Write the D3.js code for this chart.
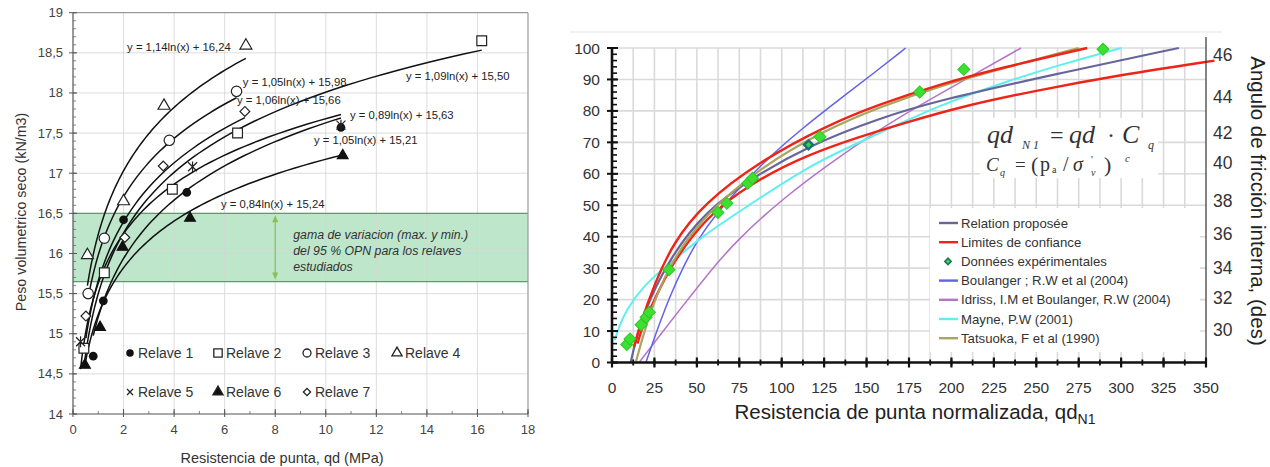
<!DOCTYPE html>
<html><head><meta charset="utf-8">
<script src="https://cdn.jsdelivr.net/npm/d3@7"></script>
<style>
body{margin:0;background:#fff}
svg{display:block}
text{font-family:"Liberation Sans",Arial,sans-serif}
text.serif{font-family:"Liberation Serif","Times New Roman",serif}
</style>
</head><body>
<svg id="c" width="1270" height="467"></svg>
<script>
// ================= LEFT CHART DATA =================
const relaveNames = ["Relave 1","Relave 2","Relave 3","Relave 4","Relave 5","Relave 6","Relave 7"];
const r1X = [0.8, 1.2, 2.0, 4.5, 10.6],           r1Y = [14.72, 15.41, 16.42, 16.76, 17.57];
const r2X = [0.43, 1.24, 3.93, 6.51, 16.17],      r2Y = [14.82, 15.76, 16.8, 17.5, 18.65];
const r3X = [0.6, 1.24, 3.81, 6.47],              r3Y = [15.5, 16.19, 17.41, 18.02];
const r4X = [0.57, 2.0, 3.6, 6.84],               r4Y = [15.98, 16.65, 17.84, 18.59];
const r5X = [0.3, 4.73, 10.6],                    r5Y = [14.9, 17.08, 17.6];
const r6X = [0.47, 1.07, 1.96, 4.63, 10.67],      r6Y = [14.61, 15.08, 16.08, 16.44, 17.22];
const r7X = [0.51, 2.05, 3.57, 6.8],              r7Y = [15.22, 16.2, 17.09, 17.77];
const coefA = [1.05, 1.09, 1.05, 1.14, 0.89, 0.84, 1.06];
const coefB = [15.21, 15.50, 15.98, 16.24, 15.63, 15.24, 15.66];
// equation label anchors (data units)
const eqLabelX = [9.53, 13.17, 6.72, 2.14, 10.96, 5.85, 6.49];
const eqLabelY = [17.41, 18.21, 18.14, 18.57, 17.73, 16.62, 17.91];
const leftXTicks = [0,2,4,6,8,10,12,14,16,18];
const leftYTicks = [14,14.5,15,15.5,16,16.5,17,17.5,18,18.5,19];
const bandRange = [15.65, 16.5];
const bandText = ["gama de variacion  (max. y min.)", "del 95 % OPN para los relaves", "estudiados"];

// ================= RIGHT CHART DATA =================
const relPropX = [11, 15, 22, 35, 55, 82, 116, 158, 193.5, 262, 334];
const relPropY = [0, 9.5, 20, 34, 48, 58.5, 69, 77.8, 83.5, 91.8, 100];
const limUpX = [13, 16.5, 25, 36, 54, 87, 127, 158, 193.5, 230, 280];
const limUpY = [5, 12, 25, 38, 50.5, 64, 75.5, 82.2, 88.5, 93.8, 100];
const limLoX = [15, 18, 22, 33, 48, 63, 87, 115, 146, 170, 205, 250, 300, 355];
const limLoY = [6, 11.5, 16.5, 29.2, 41, 49.5, 58.5, 66, 71.8, 75.8, 81.3, 86.5, 91.5, 96];
const boulX = [20, 25, 34, 42, 51, 61, 75, 91, 111, 136, 155, 173];
const boulY = [0, 8, 21, 30.5, 39.5, 47, 55.5, 64.5, 74, 84.5, 92.3, 100];
const idrX = [16, 28, 41, 57, 72, 100, 135, 170, 205, 241];
const idrY = [0, 8.5, 17.5, 28.5, 38, 52, 66, 78.4, 89, 100];
const mayX = [1.5, 4, 8, 19.5, 33, 54, 76.5, 117, 150, 193.5, 233, 265, 300];
const mayY = [7, 11, 16.5, 25, 31, 40.5, 48.5, 63, 71, 82, 89.5, 94.8, 100];
const tatX = [14, 18, 25, 36, 54, 87, 127, 158, 193.5, 230, 275];
const tatY = [0, 8, 20, 33, 46.5, 62, 74.3, 81.3, 88, 93.5, 100];
const expX = [8.7, 10.6, 17.1, 20.1, 22, 33.6, 62.4, 67.7, 80, 82.8, 115.8, 122.5, 181.3, 207.3, 289.3];
const expY = [5.7, 7.5, 12, 14.4, 16, 29.5, 47.7, 50.6, 57, 58.6, 69.2, 71.8, 86, 93.2, 99.6];
const rightXTicks = [0,25,50,75,100,125,150,175,200,225,250,275,300,325,350];
const rightYTicks = [0,10,20,30,40,50,60,70,80,90,100];
const phiTicks = [30, 32, 34, 36, 38, 40, 42, 44, 46];
const phiAtDr  = [10.4, 20.5, 30, 40.9, 51.5, 63.4, 72.9, 84.5, 97.8];
const legendNames = ["Relation proposée","Limites de confiance","Données expérimentales",
  "Boulanger ; R.W et al (2004)","Idriss, I.M et Boulanger, R.W (2004)","Mayne, P.W (2001)","Tatsuoka, F et al (1990)"];

// ================= DRAW =================
const svg = d3.select("#c");
const fmt = v => v.toFixed(2).replace(".", ",");
const fmtT = v => String(v).replace(".", ",");

// ---------- LEFT ----------
const xL = d3.scaleLinear().domain([0,18]).range([73,528]);
const yL = d3.scaleLinear().domain([14,19]).range([414,12.7]);
const gL = svg.append("g");

gL.append("rect").attr("x", xL(0)).attr("width", xL(18)-xL(0))
  .attr("y", yL(bandRange[1])).attr("height", yL(bandRange[0]) - yL(bandRange[1]))
  .attr("fill", "#bde6cb");
gL.selectAll(".vg").data(leftXTicks.filter(d=>d>0 && d<18)).join("line")
  .attr("x1", d=>xL(d)).attr("x2", d=>xL(d)).attr("y1", yL(19)).attr("y2", yL(14))
  .attr("stroke", "#d4d4d4").attr("stroke-opacity", 0.8).attr("stroke-width", 1);
gL.selectAll(".hg").data(leftYTicks.filter(d=>d>14 && d<19)).join("line")
  .attr("x1", xL(0)).attr("x2", xL(18)).attr("y1", d=>yL(d)).attr("y2", d=>yL(d))
  .attr("stroke", "#d4d4d4").attr("stroke-opacity", 0.8).attr("stroke-width", 1);
bandRange.forEach(v => gL.append("line").attr("x1", xL(0)).attr("x2", xL(18))
  .attr("y1", yL(v)).attr("y2", yL(v)).attr("stroke", "#4aa56d").attr("stroke-width", 1.3));
gL.append("line").attr("x1", xL(0)).attr("x2", xL(18)).attr("y1", yL(19)).attr("y2", yL(19)).attr("stroke", "#9a9a9a").attr("stroke-width", 1.2);
gL.append("line").attr("x1", xL(18)).attr("x2", xL(18)).attr("y1", yL(19)).attr("y2", yL(14)).attr("stroke", "#9a9a9a").attr("stroke-width", 1.2);

const arrX = xL(8);
gL.append("line").attr("x1", arrX).attr("x2", arrX).attr("y1", yL(bandRange[1])+4).attr("y2", yL(bandRange[0])-4)
  .attr("stroke", "#86c24d").attr("stroke-width", 1.2);
gL.append("path").attr("d", `M${arrX-3},${yL(bandRange[1])+9} L${arrX+3},${yL(bandRange[1])+9} L${arrX},${yL(bandRange[1])+2} Z`).attr("fill", "#86c24d");
gL.append("path").attr("d", `M${arrX-3},${yL(bandRange[0])-9} L${arrX+3},${yL(bandRange[0])-9} L${arrX},${yL(bandRange[0])-2} Z`).attr("fill", "#86c24d");
bandText.forEach((t,i) => gL.append("text").attr("x", xL(8)+18).attr("y", 239 + i*16)
  .attr("font-size", 12.3).attr("font-style", "italic").attr("fill", "#333").text(t));

const relX = [r1X,r2X,r3X,r4X,r5X,r6X,r7X], relY = [r1Y,r2Y,r3Y,r4Y,r5Y,r6Y,r7Y];
const lineL = d3.line().x(d=>xL(d[0])).y(d=>yL(d[1]));
relX.forEach((xs,i) => {
  const lo = d3.min(xs), hi = d3.max(xs);
  const pts = d3.range(0, 81).map(k => { const x = lo * Math.pow(hi/lo, k/80); return [x, coefA[i]*Math.log(x)+coefB[i]]; });
  gL.append("path").attr("d", lineL(pts)).attr("fill", "none").attr("stroke", "#111").attr("stroke-width", 1.5);
});
coefA.forEach((a,i) => gL.append("text").attr("x", xL(eqLabelX[i])).attr("y", yL(eqLabelY[i])+4)
  .attr("font-size", 11.3).attr("fill", "#222").text(`y = ${fmt(a)}ln(x) + ${fmt(coefB[i])}`));

function asterisk(s){ const h=s/2; return `M${-h},${-h}L${h},${h}M${-h},${h}L${h},${-h}M0,${-h*1.2}L0,${h*1.2}`; }
function xmark(s){ const h=s/2; return `M${-h},${-h}L${h},${h}M${-h},${h}L${h},${-h}`; }
const sym = [
  {p: d3.symbol(d3.symbolCircle, 60)(), fill:"#111", stroke:"none", rot:0},
  {p: d3.symbol(d3.symbolSquare, 95)(), fill:"#fff", stroke:"#222", rot:0},
  {p: d3.symbol(d3.symbolCircle, 85)(), fill:"#fff", stroke:"#222", rot:0},
  {p: d3.symbol(d3.symbolTriangle, 62)(), fill:"#fff", stroke:"#222", rot:0},
  {p: asterisk(9), fill:"none", stroke:"#222", rot:0},
  {p: d3.symbol(d3.symbolTriangle, 50)(), fill:"#111", stroke:"#111", rot:0},
  {p: d3.symbol(d3.symbolSquare, 48)(), fill:"#fff", stroke:"#222", rot:45}
];
relX.forEach((xs,i) => {
  xs.forEach((x,j) => gL.append("path").attr("d", sym[i].p)
    .attr("transform", `translate(${xL(x)},${yL(relY[i][j])}) rotate(${sym[i].rot})`)
    .attr("fill", sym[i].fill).attr("stroke", sym[i].stroke).attr("stroke-width", 1.2));
});

gL.append("line").attr("x1", xL(0)).attr("x2", xL(0)).attr("y1", yL(19)).attr("y2", yL(14)).attr("stroke", "#555").attr("stroke-width", 1.2);
gL.append("line").attr("x1", xL(0)).attr("x2", xL(18)).attr("y1", yL(14)).attr("y2", yL(14)).attr("stroke", "#555").attr("stroke-width", 1.2);
const yMinorL = d3.range(140, 191).map(v=>v/10);
gL.selectAll(".ymt").data(yMinorL).join("line").attr("x1", xL(0)).attr("x2", xL(0)+3)
  .attr("y1", d=>yL(d)).attr("y2", d=>yL(d)).attr("stroke", "#666").attr("stroke-width", 0.8);
gL.selectAll(".yMt").data(leftYTicks).join("line").attr("x1", xL(0)-4).attr("x2", xL(0)+4)
  .attr("y1", d=>yL(d)).attr("y2", d=>yL(d)).attr("stroke", "#555").attr("stroke-width", 1);
gL.selectAll(".ytl").data(leftYTicks).join("text").attr("x", xL(0)-10).attr("y", d=>yL(d)+4.5)
  .attr("text-anchor", "end").attr("font-size", 13).attr("fill", "#444").text(fmtT);
const xMinorL = d3.range(0, 19);
gL.selectAll(".xmt").data(xMinorL).join("line").attr("x1", d=>xL(d)).attr("x2", d=>xL(d))
  .attr("y1", yL(14)-3).attr("y2", yL(14)).attr("stroke", "#666").attr("stroke-width", 0.8);
gL.selectAll(".xMt").data(leftXTicks).join("line").attr("x1", d=>xL(d)).attr("x2", d=>xL(d))
  .attr("y1", yL(14)-5).attr("y2", yL(14)+3).attr("stroke", "#555").attr("stroke-width", 1);
gL.selectAll(".xtl").data(leftXTicks).join("text").attr("x", d=>xL(d)).attr("y", yL(14)+20)
  .attr("text-anchor", "middle").attr("font-size", 13).attr("fill", "#444").text(d=>d);
gL.append("text").attr("x", 282).attr("y", 463).attr("text-anchor", "middle").attr("font-size", 14.5).attr("fill", "#333")
  .text("Resistencia de punta, qd (MPa)");
gL.append("text").attr("transform", "translate(26,212) rotate(-90)").attr("text-anchor", "middle")
  .attr("font-size", 14.3).attr("fill", "#333").text("Peso volumetrico seco (kN/m3)");

const legColX = [130, 218, 307, 397], legRowY = [353, 392];
const legSym = [
  d3.symbol(d3.symbolCircle, 45)(), d3.symbol(d3.symbolSquare, 70)(), d3.symbol(d3.symbolCircle, 50)(),
  d3.symbol(d3.symbolTriangle, 45)(), xmark(6), d3.symbol(d3.symbolTriangle, 45)(), d3.symbol(d3.symbolSquare, 26)()
];
relaveNames.forEach((n,i) => {
  const cx = legColX[i<4 ? i : i-4], cy = legRowY[i<4 ? 0 : 1];
  gL.append("path").attr("d", legSym[i]).attr("transform", `translate(${cx},${cy}) rotate(${sym[i].rot})`)
    .attr("fill", i===4 ? "none" : sym[i].fill).attr("stroke", sym[i].stroke === "none" ? "none" : "#222").attr("stroke-width", 1.3);
  gL.append("text").attr("x", cx+8).attr("y", cy+5).attr("font-size", 14).attr("fill", "#333").text(n);
});

// ---------- RIGHT ----------
const xR = d3.scaleLinear().domain([0,350]).range([612,1206]);
const yR = d3.scaleLinear().domain([0,100]).range([362.5,48]);
const phiScale = d3.scaleLinear().domain(phiTicks).range(phiAtDr.map(d=>yR(d)));
const gR = svg.append("g");

gR.append("line").attr("x1", 570).attr("x2", 1222).attr("y1", 32).attr("y2", 32).attr("stroke", "#eeeeee").attr("stroke-width", 1.5);
gR.selectAll(".vg").data(d3.range(1, 28).map(k=>k*12.5)).join("line")
  .attr("x1", d=>xR(d)).attr("x2", d=>xR(d)).attr("y1", yR(100)).attr("y2", yR(0))
  .attr("stroke", "#dadada").attr("stroke-width", 1.6);
gR.selectAll(".hg").data(rightYTicks.filter(d=>d>0)).join("line")
  .attr("x1", xR(0)).attr("x2", xR(350)).attr("y1", d=>yR(d)).attr("y2", d=>yR(d))
  .attr("stroke", "#dadada").attr("stroke-width", 1.6);

// formula box
gR.append("rect").attr("x", 980).attr("y", 118).attr("width", 178).attr("height", 60).attr("fill", "#fff");
function piece(t, x, y, size, italic){
  gR.append("text").attr("class", "serif").attr("x", x).attr("y", y).attr("font-size", size)
    .attr("font-style", italic ? "italic" : "normal").attr("fill", "#333").text(t);
}
piece("qd", 987, 143, 26, true);
piece("N 1", 1022, 149, 12, true);
piece("=", 1050, 143, 24, false);
piece("qd", 1069, 143, 26, true);
piece("·", 1107, 143, 24, false);
piece("C", 1122, 143, 26, true);
piece("q", 1148, 149, 12, true);
piece("C", 986, 171, 19, true);
piece("q", 1000, 176, 10, true);
piece("=", 1015, 171, 19, false);
piece("(", 1031, 172, 22, false);
piece("p", 1040, 171, 20, false);
piece("a", 1052, 173, 10, false);
piece("/", 1063, 171, 20, false);
piece("σ", 1073, 171, 20, true);
piece("'", 1091, 163, 11, false);
piece("v", 1091, 176, 10, true);
piece(")", 1104, 172, 22, false);
piece("c", 1125, 162, 11, true);

// legend box
gR.append("rect").attr("x", 930).attr("y", 208).attr("width", 270).attr("height", 144).attr("fill", "#fff");

const lineR = d3.line().x(d=>xR(d[0])).y(d=>yR(d[1])).curve(d3.curveBasis);
const zipR = (xs, ys) => xs.map((x,i)=>[x, ys[i]]);
const curves = [
  {x: idrX, y: idrY, c: "#b574c9", w: 1.5},
  {x: boulX, y: boulY, c: "#6262ea", w: 1.5},
  {x: mayX, y: mayY, c: "#5ef0f0", w: 2},
  {x: relPropX, y: relPropY, c: "#66669a", w: 2.2},
  {x: limLoX, y: limLoY, c: "#ee2418", w: 2.4},
  {x: tatX, y: tatY, c: "#a9a55e", w: 2.2},
  {x: limUpX, y: limUpY, c: "#ee2418", w: 2.4}
];
curves.forEach(cv => gR.append("path").attr("d", lineR(zipR(cv.x, cv.y))).attr("fill", "none")
  .attr("stroke", cv.c).attr("stroke-width", cv.w));
const diam = d3.symbol(d3.symbolSquare, 72)();
expX.forEach((x,i) => {
  const special = i === 10;
  gR.append("path").attr("d", special ? d3.symbol(d3.symbolSquare, 40)() : diam)
    .attr("transform", `translate(${xR(x)},${yR(expY[i])}) rotate(45)`)
    .attr("fill", special ? "#2fcf5a" : "#3ee02f").attr("stroke", special ? "#1e6e6e" : "#2cc82a").attr("stroke-width", special ? 2.4 : 1);
});

gR.append("line").attr("x1", xR(350)).attr("x2", xR(350)).attr("y1", 37).attr("y2", yR(0)).attr("stroke", "#333").attr("stroke-width", 1.2);
gR.selectAll(".ymt").data(d3.range(0, 101, 2)).join("line").attr("x1", xR(0)).attr("x2", xR(0)+5)
  .attr("y1", d=>yR(d)).attr("y2", d=>yR(d)).attr("stroke", "#111").attr("stroke-width", 1.6);
gR.selectAll(".yMt").data(rightYTicks).join("line").attr("x1", xR(0)-5).attr("x2", xR(0)+6)
  .attr("y1", d=>yR(d)).attr("y2", d=>yR(d)).attr("stroke", "#111").attr("stroke-width", 2);
gR.selectAll(".xmt").data(d3.range(0, 351, 12.5)).join("line").attr("x1", d=>xR(d)).attr("x2", d=>xR(d))
  .attr("y1", yR(0)-3).attr("y2", yR(0)+3).attr("stroke", "#111").attr("stroke-width", 1.8);
gR.selectAll(".xMt").data(rightXTicks).join("line").attr("x1", d=>xR(d)).attr("x2", d=>xR(d))
  .attr("y1", yR(0)-5).attr("y2", yR(0)+5).attr("stroke", "#111").attr("stroke-width", 2.2);
gR.append("line").attr("x1", xR(0)).attr("x2", xR(0)).attr("y1", yR(100)).attr("y2", yR(0)).attr("stroke", "#111").attr("stroke-width", 2.6);
gR.append("line").attr("x1", xR(0)).attr("x2", xR(350)).attr("y1", yR(0)).attr("y2", yR(0)).attr("stroke", "#111").attr("stroke-width", 2.6);
gR.selectAll(".ytl").data(rightYTicks).join("text").attr("x", xR(0)-12).attr("y", d=>yR(d)+5.5)
  .attr("text-anchor", "end").attr("font-size", 15.5).attr("fill", "#333").text(d=>d);
gR.selectAll(".xtl").data(rightXTicks).join("text").attr("x", d=>xR(d)).attr("y", yR(0)+30)
  .attr("text-anchor", "middle").attr("font-size", 15.5).attr("fill", "#333").text(d=>d);
gR.selectAll(".ptl").data(phiTicks).join("text").attr("x", xR(350)+7).attr("y", d=>phiScale(d)+6)
  .attr("font-size", 17.5).attr("fill", "#333").text(d=>d);
const xt = gR.append("text").attr("x", 915).attr("y", 419).attr("text-anchor", "middle").attr("font-size", 20.5).attr("fill", "#222");
xt.append("tspan").text("Resistencia de punta normalizada, qd");
xt.append("tspan").attr("font-size", 14).attr("dy", 5).text("N1");
gR.append("text").attr("transform", "translate(1251,201) rotate(90)").attr("text-anchor", "middle")
  .attr("font-size", 20.5).attr("fill", "#222").text("Angulo de fricción interna, (des)");

const legStyle = [
  {c:"#66669a"}, {c:"#ee2418"}, {c:null}, {c:"#6262ea"}, {c:"#b574c9"}, {c:"#5ef0f0"}, {c:"#a9a55e"}
];
legendNames.forEach((n,i) => {
  const yy = 223 + i*19.2;
  if (legStyle[i].c) {
    gR.append("line").attr("x1", 939).attr("x2", 958).attr("y1", yy).attr("y2", yy).attr("stroke", legStyle[i].c).attr("stroke-width", 2.4);
  } else {
    gR.append("path").attr("d", d3.symbol(d3.symbolSquare, 20)()).attr("transform", `translate(948,${yy}) rotate(45)`)
      .attr("fill", "#3ee02f").attr("stroke", "#1e6e6e").attr("stroke-width", 1.6);
  }
  gR.append("text").attr("x", 961).attr("y", yy+4.5).attr("font-size", 13.2).attr("fill", "#333").text(n);
});
</script>
</body></html>
